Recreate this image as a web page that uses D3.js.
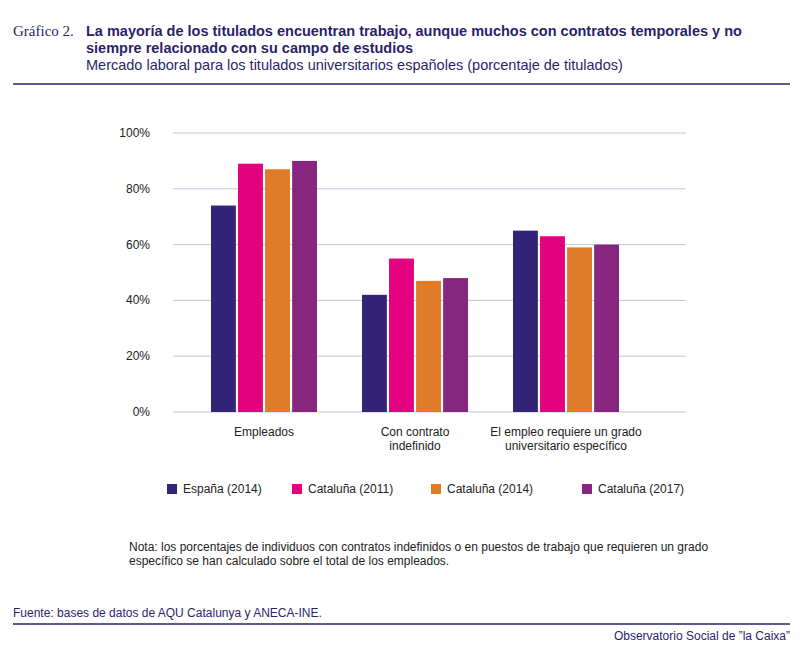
<!DOCTYPE html>
<html>
<head>
<meta charset="utf-8" />
<style>
body { margin: 0; background: #fff; font-family: "Liberation Sans", Arial, sans-serif; }
svg { display: block; }
.grid line { stroke: #c9c3dc; }
.tick-label { font-size: 12px; fill: #222; text-anchor: end; }
.cat-label { font-size: 12px; fill: #222; text-anchor: middle; }
</style>
</head>
<body>
<script src="https://cdn.jsdelivr.net/npm/d3@7"></script>
<script>
var categories = [["Empleados"], ["Con contrato", "indefinido"], ["El empleo requiere un grado", "universitario específico"]];
var series = ["España (2014)", "Cataluña (2011)", "Cataluña (2014)", "Cataluña (2017)"];
var colors = ["#33247a", "#e4007f", "#e07b27", "#86267f"];
var values = [
  [74, 89, 87, 90],
  [42, 55, 47, 48],
  [65, 63, 59, 60]
];
var ticks = [0, 20, 40, 60, 80, 100];

var svg = d3.select("body").append("svg").attr("width", 800).attr("height", 650);
var navy = "#2b1f6b";

svg.append("text").attr("x", 13).attr("y", 36).attr("font-family", "Liberation Serif, serif")
  .attr("font-size", 15).attr("fill", navy).text("Gráfico 2.");
svg.append("text").attr("x", 86).attr("y", 36).attr("font-size", 14.5).attr("font-weight", "bold")
  .attr("fill", navy).text("La mayoría de los titulados encuentran trabajo, aunque muchos con contratos temporales y no");
svg.append("text").attr("x", 86).attr("y", 53).attr("font-size", 14.5).attr("font-weight", "bold")
  .attr("fill", navy).text("siempre relacionado con su campo de estudios");
svg.append("text").attr("x", 86).attr("y", 70).attr("font-size", 14.5)
  .attr("fill", navy).text("Mercado laboral para los titulados universitarios españoles (porcentaje de titulados)");
svg.append("line").attr("x1", 13).attr("x2", 790).attr("y1", 84).attr("y2", 84).attr("stroke", navy).attr("stroke-width", 1.5);

var y = d3.scaleLinear().domain([0, 100]).range([412, 133]);
var x0 = d3.scaleBand().domain(d3.range(categories.length)).range([173, 626]);
var x1 = d3.scaleBand().domain(d3.range(series.length)).range([38, 144]).paddingInner(0.08);

var grid = svg.append("g").attr("class", "grid");
ticks.forEach(function(t) {
  grid.append("line").attr("x1", 173).attr("x2", 686).attr("y1", y(t)).attr("y2", y(t))
    .attr("stroke", t === 0 ? navy : "#c9c3dc");
  svg.append("text").attr("class", "tick-label").attr("x", 150).attr("y", y(t) + 4).text(t + "%");
});

values.forEach(function(row, i) {
  row.forEach(function(v, j) {
    svg.append("rect").attr("x", x0(i) + x1(j)).attr("width", x1.bandwidth())
      .attr("y", y(v)).attr("height", y(0) - y(v)).attr("fill", colors[j]);
  });
  var cx = x0(i) + (x1(0) + x1(3) + x1.bandwidth()) / 2;
  categories[i].forEach(function(line, k) {
    svg.append("text").attr("class", "cat-label").attr("x", cx).attr("y", 436 + k * 14).text(line);
  });
});

var legendX = [167, 292, 431, 582];
series.forEach(function(s, j) {
  svg.append("rect").attr("x", legendX[j]).attr("y", 484).attr("width", 10).attr("height", 10).attr("fill", colors[j]);
  svg.append("text").attr("x", legendX[j] + 16).attr("y", 493).attr("font-size", 12).attr("fill", "#222").text(s);
});

svg.append("text").attr("x", 129).attr("y", 551).attr("font-size", 12).attr("fill", "#222")
  .text("Nota: los porcentajes de individuos con contratos indefinidos o en puestos de trabajo que requieren un grado");
svg.append("text").attr("x", 129).attr("y", 565).attr("font-size", 12).attr("fill", "#222")
  .text("específico se han calculado sobre el total de los empleados.");

svg.append("text").attr("x", 13).attr("y", 617).attr("font-size", 12).attr("fill", navy)
  .text("Fuente: bases de datos de AQU Catalunya y ANECA-INE.");
svg.append("line").attr("x1", 13).attr("x2", 790).attr("y1", 624).attr("y2", 624).attr("stroke", navy).attr("stroke-width", 1.5);
svg.append("text").attr("x", 790).attr("y", 640).attr("font-size", 12).attr("fill", navy).attr("text-anchor", "end")
  .text("Observatorio Social de ”la Caixa”");
</script>
</body>
</html>
